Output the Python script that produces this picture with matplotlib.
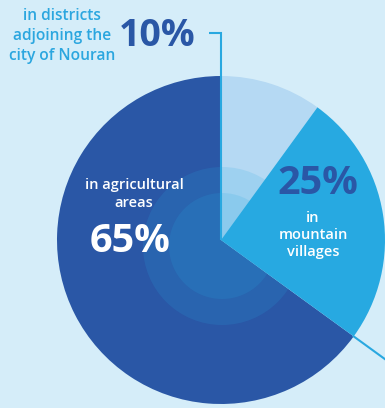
import numpy as np
import matplotlib
matplotlib.use("Agg")
import matplotlib.pyplot as plt
from matplotlib.patches import Circle

# data
categories = ["in districts\nadjoining the\ncity of Nouran", "in\nmountain\nvillages", "in agricultural\nareas"]
values = [10, 25, 65]
value_labels = ["10%", "25%", "65%"]
colors = ["#b5d9f3", "#27a9e1", "#2a57a6"]

BG = "#d5edf9"
W, H = 385, 408
fig = plt.figure(figsize=(W / 100, H / 100), dpi=100, facecolor=BG)
ax = fig.add_axes([0, 0, 1, 1])
ax.set_facecolor(BG)

cx, cy, R = 221, H - 240, 164
wedges, _ = ax.pie(values, colors=colors, startangle=90, counterclock=False,
                   center=(cx, cy), radius=R, wedgeprops=dict(linewidth=0))
# concentric translucent rings
rc = (222, H - 246)
for r in (79, 53):
    ax.add_patch(Circle(rc, r, facecolor="#27a9e1", alpha=0.16, linewidth=0, zorder=2))
wedges[1].set_zorder(3)

ax.set_xlim(0, W)
ax.set_ylim(0, H)
ax.set_aspect("equal")
ax.axis("off")

line_c = "#29a8e0"
# callout 1
ax.plot([209, cx, cx], [H - 33, H - 33, cy], color=line_c, lw=1.5, zorder=4,
        solid_capstyle="butt", solid_joinstyle="miter")
# callout 2 along boundary of 25%/65%
ang = np.deg2rad(90 - 360 * (values[0] + values[1]) / 100)
rs = np.array([R, R + 60])
ax.plot(cx + rs * np.cos(ang), cy + rs * np.sin(ang), color=line_c, lw=1.5, zorder=1)

fam = ["Open Sans", "DejaVu Sans"]
dark = "#2a57a6"
ax.text(62, H - 36, categories[0], ha="center", va="center", color="#2ba6df",
        fontsize=11.2, fontweight="semibold", family=fam, linespacing=1.3, zorder=5)
ax.text(157, H - 36, value_labels[0], ha="center", va="center", color=dark,
        fontsize=27, fontweight="bold", family=fam, zorder=5)

ax.text(318, H - 183, value_labels[1], ha="center", va="center", color=dark,
        fontsize=28.5, fontweight="bold", family=fam, zorder=5)
ax.text(313, H - 235, categories[1], ha="center", va="center", color="white",
        fontsize=10.5, fontweight="semibold", family=fam, linespacing=1.3, zorder=5)

ax.text(134, H - 194, categories[2], ha="center", va="center", color="white",
        fontsize=10.5, fontweight="semibold", family=fam, linespacing=1.3, zorder=5)
ax.text(130, H - 242, value_labels[2], ha="center", va="center", color="white",
        fontsize=28.5, fontweight="bold", family=fam, zorder=5)

fig.savefig("out.png", dpi=100, facecolor=BG)
